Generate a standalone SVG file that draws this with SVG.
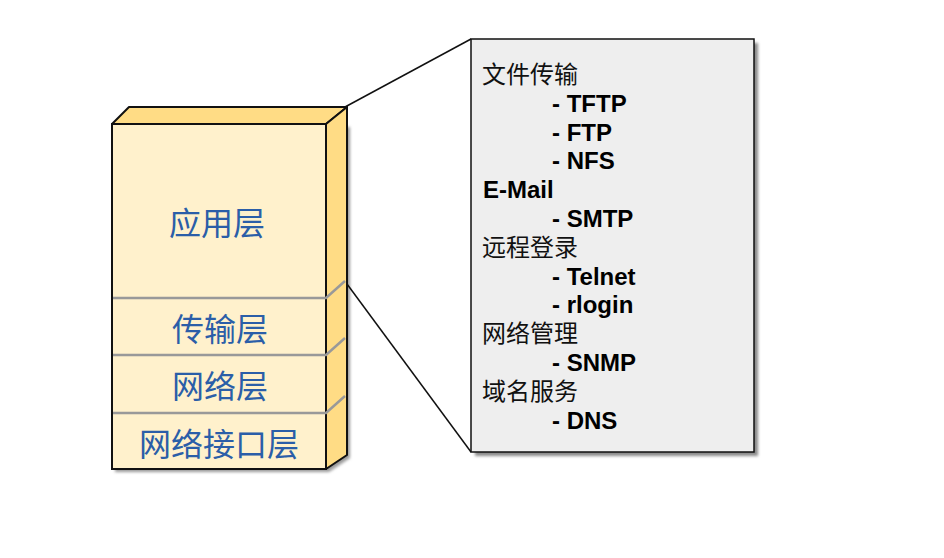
<svg xmlns="http://www.w3.org/2000/svg" width="944" height="558" viewBox="0 0 944 558">
  <defs>
    <filter id="blur" x="-10%" y="-10%" width="120%" height="120%">
      <feGaussianBlur stdDeviation="1.5"/>
    </filter>
  </defs>
  <style>
    .face-front { fill: #fff1cc; stroke: #111; stroke-width: 2; }
    .face-side { fill: #ffdc85; stroke: #111; stroke-width: 2; stroke-linejoin: round; }
    .divider { fill: none; stroke: #999; stroke-width: 2.5; }
    .layer { font-family: "Noto Sans CJK SC", "Noto Sans", sans-serif; font-size: 32px; fill: #2b5ea8; text-anchor: middle; }
    .cn { font-family: "Noto Sans CJK SC", "Noto Sans", sans-serif; font-size: 24px; fill: #111; }
    .en { font-family: "Liberation Sans", Arial, "Noto Sans CJK SC", sans-serif; font-size: 24px; font-weight: bold; fill: #000; }
    .conn { stroke: #111; stroke-width: 1.5; fill: none; }
  </style>
  <rect width="944" height="558" fill="#ffffff"/>

  <g id="stack">
    <polygon points="115,127 350,127 350,458 329,472 115,472" fill="#9a9a9a" filter="url(#blur)"/>
    <polygon class="face-side" points="112,124 129,107 347,107 326,124"/>
    <polygon class="face-side" points="326,124 347,107 347,455 326,469"/>
    <rect class="face-front" x="112" y="124" width="214" height="345"/>
  </g>

  <g id="layer-application">
    <text class="layer" x="217" y="235">应用层</text>
  </g>
  <g id="layer-transport">
    <polyline class="divider" points="113,298 326,298 345,281"/>
    <text class="layer" x="220" y="341">传输层</text>
  </g>
  <g id="layer-network">
    <polyline class="divider" points="113,355 326,355 345,338"/>
    <text class="layer" x="220" y="398">网络层</text>
  </g>
  <g id="layer-interface">
    <polyline class="divider" points="113,413 326,413 345,396"/>
    <text class="layer" x="219" y="456">网络接口层</text>
  </g>

  <g id="connectors">
    <line class="conn" x1="345" y1="107" x2="471" y2="39"/>
    <line class="conn" x1="347" y1="284" x2="471" y2="452"/>
  </g>

  <g id="callout">
    <rect x="475" y="43" width="283" height="413" fill="#8a8a8a" filter="url(#blur)"/>
    <rect x="471" y="39" width="283" height="413" fill="#eeeeee" stroke="#111" stroke-width="1.5"/>
    <text class="cn" x="482" y="83">文件传输</text>
    <text class="en" x="552" y="111.7">- TFTP</text>
    <text class="en" x="552" y="140.5">- FTP</text>
    <text class="en" x="552" y="169.3">- NFS</text>
    <text class="en" x="483" y="198.1">E-Mail</text>
    <text class="en" x="552" y="226.9">- SMTP</text>
    <text class="cn" x="482" y="255.7">远程登录</text>
    <text class="en" x="552" y="284.5">- Telnet</text>
    <text class="en" x="552" y="313.3">- rlogin</text>
    <text class="cn" x="482" y="342.1">网络管理</text>
    <text class="en" x="552" y="370.9">- SNMP</text>
    <text class="cn" x="482" y="399.7">域名服务</text>
    <text class="en" x="552" y="428.5">- DNS</text>
  </g>
</svg>
